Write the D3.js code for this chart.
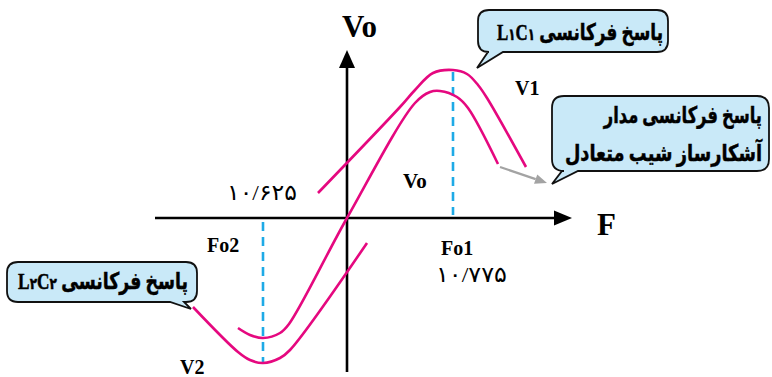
<!DOCTYPE html>
<html><head><meta charset="utf-8">
<script src="https://cdn.jsdelivr.net/npm/d3@7"></script>
<style>html,body{margin:0;padding:0;background:#fff;}svg{display:block;}</style>
</head><body>
<script>
// ---- data (units: horizontal = frequency offset, vertical = output voltage) ----
const curveLC1 = [[-29,25],[53,111],[68,128],[86,145],[106,148],[120,144],[131,133],[140,120],[179,51]];
const curveTotal = [[-109,-110],[-97,-117],[-84,-120],[-67,-115],[-58,-106],[0,0],[68,115],[83,126],[93,127],[110,121],[121,110],[151,54]];
const curveLC2 = [[-154,-89],[-109,-134],[-97,-142],[-84,-145],[-67,-140],[-57,-132],[20,-25]];
const fo1 = 106, fo2 = -84;
const fo1Span = [146, 3];
const fo2Span = [-4, -145];
const grayArrow = [[153,51],[200,35]];
const xDomain = [-192, 225];
const yDomain = [-154, 168];
const labels = {
  yAxis: "Vo", xAxis: "F", v1: "V1", v2: "V2", vo: "Vo",
  fo1: "Fo1", fo2: "Fo2", f1val: "۱۰/۷۷۵", f2val: "۱۰/۶۲۵"
};
const callout1 = ["پاسخ فرکانسی ", "L", "۱", "C", "۱"];
const callout2 = ["پاسخ فرکانسی ", "L", "۲", "C", "۲"];
const callout3 = ["پاسخ فرکانسی مدار", "آشکارساز شیب متعادل"];

const W = 772, H = 377;
const svg = d3.select("body").append("svg").attr("width", W).attr("height", H);
const x = d3.scaleLinear().domain(xDomain).range([155, 572]);
const y = d3.scaleLinear().domain(yDomain).range([372, 50]);

const MAG = "#e5087f", BLUE = "#1eaae6", FILL = "#c9e9f8";
const SERIF = "'Liberation Serif','Times New Roman','DejaVu Sans',serif";

// axes
svg.append("line").attr("x1", x(xDomain[0])).attr("x2", x(xDomain[1]) - 14)
  .attr("y1", y(0)).attr("y2", y(0)).attr("stroke", "#000").attr("stroke-width", 2.6);
svg.append("path").attr("d", `M${x(xDomain[1])},${y(0)} L${x(xDomain[1]) - 18},${y(0) - 7.5} L${x(xDomain[1]) - 18},${y(0) + 7.5}Z`).attr("fill", "#000");
svg.append("line").attr("x1", x(0)).attr("x2", x(0))
  .attr("y1", y(yDomain[0])).attr("y2", y(yDomain[1]) + 14).attr("stroke", "#000").attr("stroke-width", 2.6);
svg.append("path").attr("d", `M${x(0)},${y(yDomain[1])} L${x(0) - 8},${y(yDomain[1]) + 18} L${x(0) + 8},${y(yDomain[1]) + 18}Z`).attr("fill", "#000");

// dashed resonance lines
svg.append("line").attr("x1", x(fo1)).attr("x2", x(fo1)).attr("y1", y(fo1Span[0])).attr("y2", y(fo1Span[1]))
  .attr("stroke", BLUE).attr("stroke-width", 2.6).attr("stroke-dasharray", "9,6");
svg.append("line").attr("x1", x(fo2)).attr("x2", x(fo2)).attr("y1", y(fo2Span[0])).attr("y2", y(fo2Span[1]))
  .attr("stroke", BLUE).attr("stroke-width", 2.6).attr("stroke-dasharray", "9,6");

// curves
const line = d3.line().x(d => x(d[0])).y(d => y(d[1])).curve(d3.curveCatmullRom.alpha(0.5));
[curveLC1, curveTotal, curveLC2].forEach(c => {
  svg.append("path").attr("d", line(c)).attr("fill", "none").attr("stroke", MAG).attr("stroke-width", 2.6);
});

// gray arrow
const ga = grayArrow.map(p => [x(p[0]), y(p[1])]);
const ang = Math.atan2(ga[1][1] - ga[0][1], ga[1][0] - ga[0][0]);
const tip = ga[1], back = 12, hw = 5;
const bx = tip[0] - back * Math.cos(ang), by = tip[1] - back * Math.sin(ang);
svg.append("line").attr("x1", ga[0][0]).attr("y1", ga[0][1]).attr("x2", bx).attr("y2", by)
  .attr("stroke", "#a3a3a3").attr("stroke-width", 2.2);
svg.append("path").attr("d", `M${tip[0]},${tip[1]} L${bx - hw * Math.sin(ang)},${by + hw * Math.cos(ang)} L${bx + hw * Math.sin(ang)},${by - hw * Math.cos(ang)}Z`).attr("fill", "#a3a3a3");

// fit a text horizontally to a target width, anchored at (ax, ay)
function fitWidth(t, target, ax, ay) {
  const bb = t.node().getBBox();
  const s = target / bb.width;
  t.attr("transform", `translate(${ax},${ay}) scale(${s},1) translate(${-ax},${-ay})`);
  return t;
}

// labels
function lab(t, px, py, size, anchor) {
  return svg.append("text").attr("x", px).attr("y", py).attr("font-family", SERIF)
    .attr("font-weight", "bold").attr("font-size", size).attr("text-anchor", anchor || "start").text(t);
}
lab(labels.yAxis, 342, 37, 31);
lab(labels.xAxis, 597, 235, 31);
lab(labels.v1, 515, 95, 20);
lab(labels.v2, 180, 374, 20);
lab(labels.vo, 403, 188, 21);
lab(labels.fo2, 207, 252, 20);
lab(labels.fo1, 441, 255, 20);
fitWidth(lab(labels.f2val, 227, 200, 22).attr("font-weight", "normal").attr("direction", "ltr"), 70, 227, 200);
fitWidth(lab(labels.f1val, 436, 282, 22).attr("font-weight", "normal").attr("direction", "ltr"), 71, 436, 282);

// callouts
function bubble(x0, y0, x1, y1, r, tb0, tb1, ax, ay) {
  const p = d3.path();
  p.moveTo(x0 + r, y0);
  p.lineTo(x1 - r, y0); p.quadraticCurveTo(x1, y0, x1, y0 + r);
  p.lineTo(x1, y1 - r); p.quadraticCurveTo(x1, y1, x1 - r, y1);
  p.lineTo(tb1, y1); p.lineTo(ax, ay); p.lineTo(tb0, y1);
  p.lineTo(x0 + r, y1); p.quadraticCurveTo(x0, y1, x0, y1 - r);
  p.lineTo(x0, y0 + r); p.quadraticCurveTo(x0, y0, x0 + r, y0);
  p.closePath();
  svg.append("path").attr("d", p.toString()).attr("fill", FILL).attr("stroke", "#111").attr("stroke-width", 1.8);
}
bubble(478, 10, 668, 52, 11, 488, 503, 477, 68);
bubble(552, 96, 769, 171, 12, 562, 578, 552, 184);
bubble(7, 262, 197, 302, 11, 170, 184, 191, 309);

function rtlText(parts, px, py, size, target) {
  const t = svg.append("text").attr("x", px).attr("y", py).attr("direction", "rtl")
    .attr("text-anchor", "start").attr("font-family", SERIF).attr("font-weight", "bold").attr("font-size", size)
    .attr("stroke", "#000").attr("stroke-width", 0.5);
  parts.forEach((s, i) => {
    const ts = t.append("tspan").text(s);
    if (i === 2 || i === 4) ts.attr("font-size", size * 0.7);
  });
  return fitWidth(t, target, px, py);
}
rtlText(callout1, 663, 40, 23, 166);
rtlText(callout2, 188, 289, 23, 170);
rtlText([callout3[0]], 762, 123, 23, 159);
rtlText([callout3[1]], 762, 161, 23, 198);
</script>
</body></html>
